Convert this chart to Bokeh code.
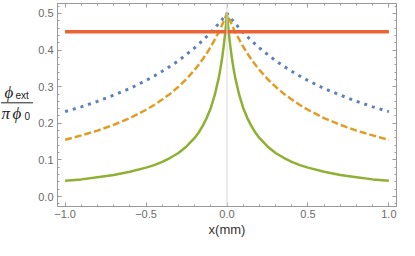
from bokeh.plotting import figure
from bokeh.layouts import row
from bokeh.models import (Range1d, LinearAxis, SingleIntervalTicker, CustomJSTickFormatter, Span)
from bokeh.core.properties import value
from bokeh.embed import file_html
from bokeh.resources import INLINE

# ---- data ----
x_vals = [-1.0, -0.9, -0.8, -0.7, -0.6, -0.5, -0.45, -0.4, -0.35, -0.3, -0.25, -0.2, -0.175,
          -0.15, -0.125, -0.1, -0.075, -0.05, -0.04, -0.03, -0.02, -0.015, -0.0075, -0.0025, 0.0,
          0.0025, 0.0075, 0.015, 0.02, 0.03, 0.04, 0.05, 0.075, 0.1, 0.125, 0.15, 0.175, 0.2,
          0.25, 0.3, 0.35, 0.4, 0.45, 0.5, 0.6, 0.7, 0.8, 0.9, 1.0]
blue_vals = [0.232, 0.245, 0.260, 0.277, 0.295, 0.317, 0.329, 0.342, 0.356, 0.371, 0.388, 0.406,
             0.416, 0.426, 0.437, 0.448, 0.460, 0.473, 0.478, 0.483, 0.489, 0.492, 0.496, 0.499,
             0.500,
             0.499, 0.496, 0.492, 0.489, 0.483, 0.478, 0.473, 0.460, 0.448, 0.437, 0.426, 0.416,
             0.406, 0.388, 0.371, 0.356, 0.342, 0.329, 0.317, 0.295, 0.277, 0.260, 0.245, 0.232]
orange_vals = [0.155, 0.167, 0.180, 0.196, 0.214, 0.237, 0.250, 0.265, 0.281, 0.300, 0.321, 0.346,
               0.360, 0.375, 0.391, 0.409, 0.429, 0.450, 0.459, 0.469, 0.479, 0.484, 0.492, 0.497,
               0.500,
               0.497, 0.492, 0.484, 0.479, 0.469, 0.459, 0.450, 0.429, 0.409, 0.391, 0.375, 0.360,
               0.346, 0.321, 0.300, 0.281, 0.265, 0.250, 0.237, 0.214, 0.196, 0.180, 0.167, 0.155]
green_vals = [0.043, 0.047, 0.053, 0.059, 0.068, 0.079, 0.086, 0.095, 0.106, 0.119, 0.137, 0.160,
              0.175, 0.193, 0.215, 0.242, 0.278, 0.326, 0.351, 0.379, 0.412, 0.431, 0.463, 0.487,
              0.500,
              0.487, 0.463, 0.431, 0.412, 0.379, 0.351, 0.326, 0.278, 0.242, 0.215, 0.193, 0.175,
              0.160, 0.137, 0.119, 0.106, 0.095, 0.086, 0.079, 0.068, 0.059, 0.053, 0.047, 0.043]
red_x = [-1.0, 1.0]
red_vals = [0.45, 0.45]

x_label = "x(mm)"
# y label: phi_ext / (pi phi_0), drawn as pieces
ylab_num = ["\u03d5", "ext"]
ylab_den = ["\u03c0", "\u03d5", "0"]

# ---- styles ----
C_BLUE = "#5E81B5"
C_ORANGE = "#E19C24"
C_GREEN = "#8FB032"
C_RED = "#EB6235"
FRAME = "#9a9a9a"
TICKTXT = "#6b6b6b"
H = 240
TOP, BOTTOM = 3, 34

yrange = Range1d(-0.027, 0.527)

p = figure(width=364, height=H, output_backend="svg", toolbar_location=None,
           x_range=Range1d(-1.047, 1.047), y_range=yrange,
           min_border_left=22, min_border_right=3, min_border_top=TOP, min_border_bottom=BOTTOM,
           background_fill_color="white", border_fill_color="white")
p.grid.visible = False
p.outline_line_color = FRAME

fmt = CustomJSTickFormatter(code='return (tick < -1e-9 ? "\\u2212" : "") + Math.abs(tick).toFixed(1);')
blank = CustomJSTickFormatter(code='return "";')

def style_axis(ax, labels=True):
    ax.axis_line_color = FRAME
    ax.major_tick_line_color = FRAME
    ax.minor_tick_line_color = FRAME
    ax.major_tick_in = 4
    ax.major_tick_out = 0
    ax.minor_tick_in = 2
    ax.minor_tick_out = 0
    ax.major_label_text_color = TICKTXT
    ax.major_label_text_font = "Liberation Sans"
    ax.major_label_text_font_size = "11px" if labels else "1px"
    ax.major_label_standoff = 4 if labels else 0
    ax.formatter = fmt if labels else blank

xb = p.xaxis[0]
xb.ticker = SingleIntervalTicker(interval=0.5, num_minor_ticks=5)
style_axis(xb)
xb.major_label_standoff = 3
xb.axis_label = x_label
xb.axis_label_text_font = "Liberation Sans"
xb.axis_label_text_font_style = "normal"
xb.axis_label_text_font_size = "13px"
xb.axis_label_text_color = "#333333"
xb.axis_label_standoff = 1

yl = p.yaxis[0]
yl.ticker = SingleIntervalTicker(interval=0.1, num_minor_ticks=5)
style_axis(yl)

xt = LinearAxis(ticker=SingleIntervalTicker(interval=0.5, num_minor_ticks=5))
style_axis(xt, labels=False)
p.add_layout(xt, "above")
yr = LinearAxis(ticker=SingleIntervalTicker(interval=0.1, num_minor_ticks=5))
style_axis(yr, labels=False)
p.add_layout(yr, "right")

p.add_layout(Span(location=0, dimension="height", line_color="#d9d9d9", line_width=1))

p.line(x_vals, blue_vals, line_color=C_BLUE, line_width=3, line_dash="3 5")
p.line(x_vals, orange_vals, line_color=C_ORANGE, line_width=2.5, line_dash="7 3")
p.line(x_vals, green_vals, line_color=C_GREEN, line_width=2.5)
p.line(red_x, red_vals, line_color=C_RED, line_width=3.5)

# ---- left strip holding the fraction label; shares the plot's vertical scale ----
q = figure(width=35, height=H, output_backend="svg", toolbar_location=None,
           x_range=Range1d(0, 35), y_range=yrange,
           x_axis_location=None, y_axis_location=None,
           min_border_left=0, min_border_right=0, min_border_top=TOP, min_border_bottom=BOTTOM,
           background_fill_color="white", border_fill_color="white")
q.grid.visible = False
q.outline_line_color = None

SERIF = value("Liberation Serif")
SANS = value("Liberation Sans")
TXT = "#222222"
q.text(x=[4], y=[0.284], text=[ylab_num[0]], text_font=SERIF, text_font_size="17px",
       text_font_style="italic", text_color=TXT, text_baseline="middle")
q.text(x=[15], y=[0.275], text=[ylab_num[1]], text_font=SANS, text_font_size="10px",
       text_font_style="normal", text_color=TXT, text_baseline="middle")
q.segment(x0=[0.5], y0=[0.256], x1=[32.5], y1=[0.256], line_color=TXT, line_width=1)
q.text(x=[1], y=[0.228], text=[ylab_den[0]], text_font=SERIF, text_font_size="17px",
       text_font_style="italic", text_color=TXT, text_baseline="middle")
q.text(x=[12], y=[0.228], text=[ylab_den[1]], text_font=SERIF, text_font_size="17px",
       text_font_style="italic", text_color=TXT, text_baseline="middle")
q.text(x=[24], y=[0.219], text=[ylab_den[2]], text_font=SANS, text_font_size="10px",
       text_font_style="normal", text_color=TXT, text_baseline="middle")

layout = row(q, p, spacing=0)
open("out.html", "w").write(file_html(layout, INLINE))
